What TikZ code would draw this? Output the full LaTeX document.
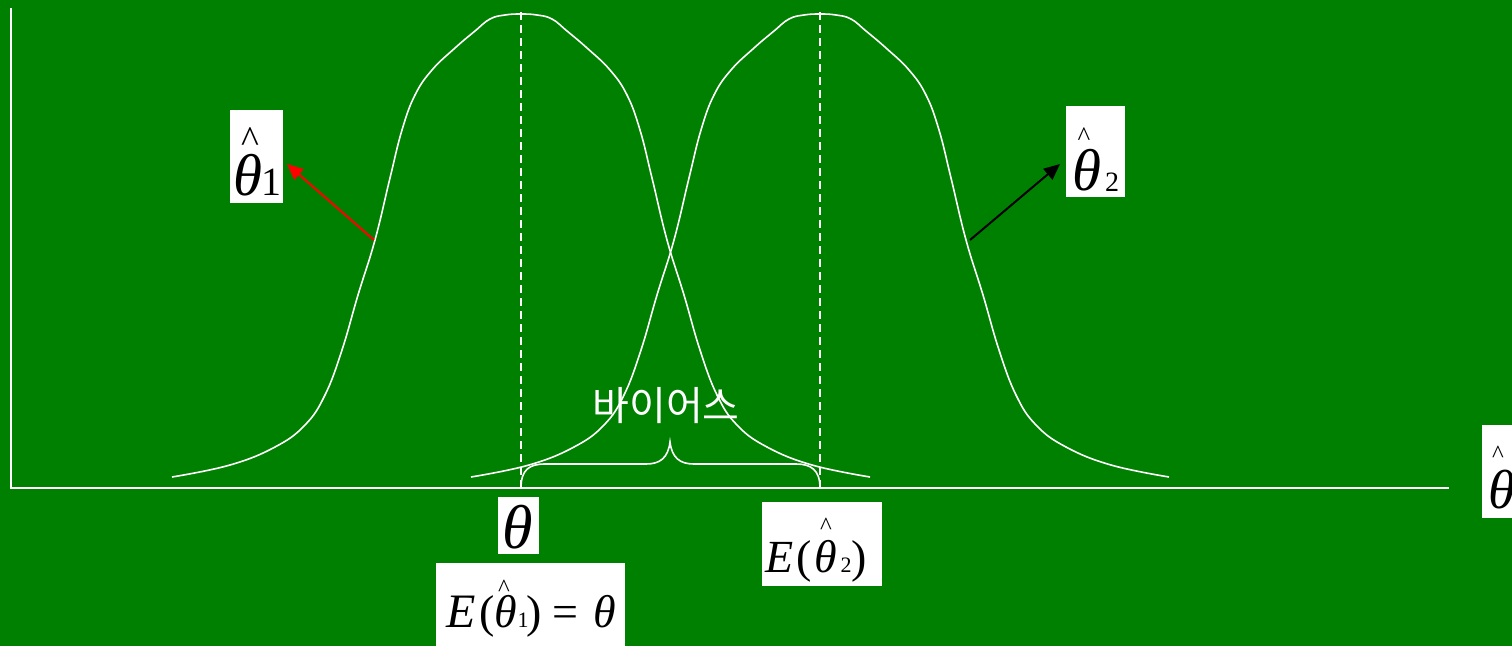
\documentclass[tikz,border=0pt]{standalone}
\usepackage{fontspec}
\setmainfont{Liberation Serif}
\newfontfamily\krfont{Noto Sans CJK KR}
\usetikzlibrary{arrows.meta}
\definecolor{bg}{HTML}{008000}
\newcommand\setfs[1]{\fontsize{#1}{#1}\selectfont}
\begin{document}
\begin{tikzpicture}[x=1pt,y=-1pt,
  curve/.style={white, line width=1.6pt},
  axisline/.style={white, line width=2pt},
  guide/.style={white, line width=1.5pt, dash pattern=on 8pt off 5pt},
  lbox/.style={fill=white, inner sep=0pt, anchor=north west},
  txt/.style={inner sep=0pt, anchor=base, text=black},
  ptr/.style={line width=2pt, -{Triangle[length=16pt,width=14pt]}},
]
\fill[bg] (0,0) rectangle (1512,646);
\clip (0,0) rectangle (1512,646);

% axes
\coordinate (o) at (11,488);
\coordinate (ytop) at (11,8);
\coordinate (xend) at (1449,488);
\draw[axisline] (ytop) -- (o) -- (xend);

% bell curves
\draw[curve] plot[smooth, tension=0.7] coordinates {(172,477) (230,465) (275,447) (305,425) (325,395) (342,350) (358,295) (375,240) (390,178) (402,130) (415,95) (432,70) (455,48) (475,31) (490,19) (505,15) (521,14) (537,15) (552,19) (567,31) (587,48) (610,70) (627,95) (640,130) (652,178) (667,240) (684,295) (700,350) (717,395) (737,425) (767,447) (812,465) (870,477)};
\draw[curve] plot[smooth, tension=0.7] coordinates {(471,477) (529,465) (574,447) (604,425) (624,395) (641,350) (657,295) (674,240) (689,178) (701,130) (714,95) (731,70) (754,48) (774,31) (789,19) (804,15) (820,14) (836,15) (851,19) (866,31) (886,48) (909,70) (926,95) (939,130) (951,178) (966,240) (983,295) (999,350) (1016,395) (1036,425) (1066,447) (1111,465) (1169,477)};

% dashed guides
\coordinate (m1) at (521,488);
\coordinate (p1) at (521,12);
\coordinate (m2) at (820,488);
\coordinate (p2) at (820,12);
\draw[guide] (p1) -- (m1);
\draw[guide] (p2) -- (m2);

% brace
\draw[white, line width=1.6pt] (m1) .. controls (521,470) and (529,464) .. (545,464) -- (646,464) .. controls (660,464) and (668,458) .. (670,442) .. controls (672,458) and (680,464) .. (694,464) -- (796,464) .. controls (811,464) and (820,470) .. (m2);
\node[text=white, font=\krfont\setfs{40}, inner sep=0pt] (bias) at (666,406) {바이어스};

% labels
\node[lbox, minimum width=53pt, minimum height=93pt] (b1) at (230,110) {};
\node[txt, font=\setfs{38}] (h1) at (250,152) {\textasciicircum};
\node[txt, font=\setfs{59}\itshape] (t1) at (248,195) {θ};
\node[txt, font=\setfs{40}] (s1) at (271,195) {1};

\node[lbox, minimum width=59pt, minimum height=91pt] (b2) at (1066,106) {};
\node[txt, font=\setfs{27}] (h2) at (1084,145) {\textasciicircum};
\node[txt, font=\setfs{59}\itshape] (t2) at (1087,190) {θ};
\node[txt, font=\setfs{28}] (s2) at (1112,191) {2};

\node[lbox, minimum width=41pt, minimum height=57pt] (b3) at (498,497) {};
\node[txt, font=\setfs{62}\itshape] (t3) at (518,548) {θ};

\node[lbox, minimum width=189pt, minimum height=83pt] (b4) at (436,563) {};
\node[txt, font=\setfs{48}\itshape] (e4) at (461,627) {E};
\node[txt, font=\setfs{46}] (l4) at (487,627) {(};
\node[txt, font=\setfs{25}] (h4) at (504,596) {\textasciicircum};
\node[txt, font=\setfs{46}\itshape] (t4) at (506,627) {θ};
\node[txt, font=\setfs{22}] (s4) at (523,627) {1};
\node[txt, font=\setfs{46}] (r4) at (534,627) {)};
\node[txt, font=\setfs{46}] (q4) at (565,627) {=};
\node[txt, font=\setfs{46}\itshape] (u4) at (605,627) {θ};

\node[lbox, minimum width=120pt, minimum height=84pt] (b5) at (762,502) {};
\node[txt, font=\setfs{46}\itshape] (e5) at (780,572) {E};
\node[txt, font=\setfs{46}] (l5) at (804,572) {(};
\node[txt, font=\setfs{25}] (h5) at (826,534) {\textasciicircum};
\node[txt, font=\setfs{46}\itshape] (t5) at (826,572) {θ};
\node[txt, font=\setfs{22}] (s5) at (846,572) {2};
\node[txt, font=\setfs{46}] (r5) at (859,572) {)};

\node[lbox, minimum width=40pt, minimum height=93pt] (b6) at (1482,425) {};
\node[txt, font=\setfs{25}] (h6) at (1498,462) {\textasciicircum};
\node[txt, font=\setfs{55}\itshape] (t6) at (1502,508) {θ};

% arrows
\coordinate (ra) at (374,240);
\coordinate (rb) at (287,164);
\coordinate (ka) at (970,240);
\coordinate (kb) at (1060,164);
\draw[ptr, red] (ra) -- (rb);
\draw[ptr, black] (ka) -- (kb);
\end{tikzpicture}
\end{document}
